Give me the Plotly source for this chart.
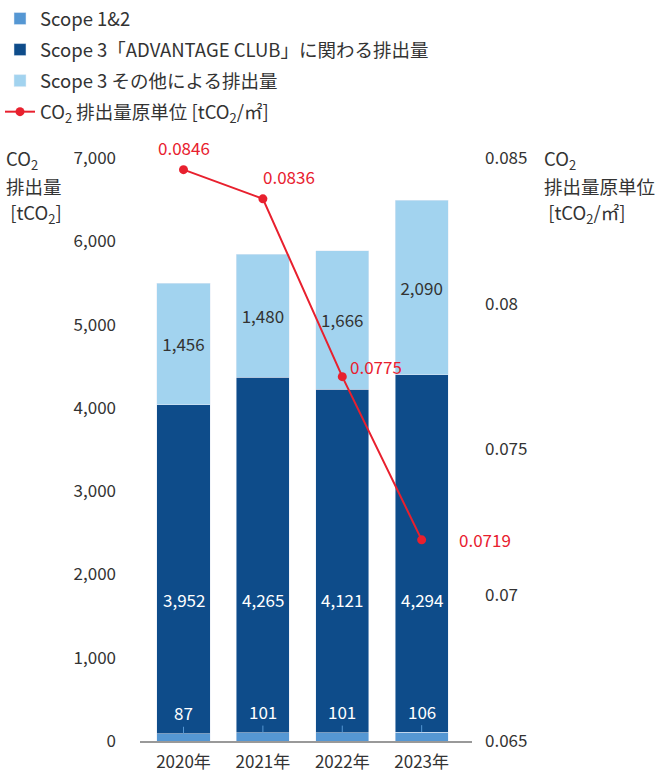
import plotly.graph_objects as go

years = ["2020年", "2021年", "2022年", "2023年"]
scope12 = [87, 101, 101, 106]
scope3_adv = [3952, 4265, 4121, 4294]
scope3_other = [1456, 1480, 1666, 2090]
intensity = [0.0846, 0.0836, 0.0775, 0.0719]

left_ticks = [0, 1000, 2000, 3000, 4000, 5000, 6000, 7000]
right_ticks = [0.065, 0.07, 0.075, 0.08, 0.085]
right_ticktext = ["0.065", "0.07", "0.075", "0.08", "0.085"]

C_S12 = "#5597D3"
C_ADV = "#0E4C8A"
C_OTH = "#A2D3EF"
C_RED = "#E8202E"
TXT = "#333333"
FONT = "Noto Sans CJK JP"

fig = go.Figure()
fig.add_trace(go.Bar(x=years, y=scope12, name="Scope 1&2", marker_color=C_S12,
                     width=0.67, legendgroup="a", hoverinfo="skip"))
fig.add_trace(go.Bar(x=years, y=scope3_adv, name="Scope 3「ADVANTAGE CLUB」に関わる排出量",
                     marker_color=C_ADV, width=0.67, legendgroup="b"))
fig.add_trace(go.Bar(x=years, y=scope3_other, name="Scope 3 その他による排出量",
                     marker_color=C_OTH, width=0.67, legendgroup="c",
                     text=[f"{v:,}" for v in scope3_other], textposition="inside",
                     insidetextanchor="middle",
                     textfont=dict(color=TXT, size=17, family=FONT)))
fig.add_trace(go.Scatter(x=years, y=intensity, yaxis="y2", mode="lines+markers",
                         name="CO<sub>2</sub> 排出量原単位 [tCO<sub>2</sub>/㎡]",
                         line=dict(color=C_RED, width=2), marker=dict(color=C_RED, size=9),
                         legendgroup="d"))

ann = []
# dark segment labels
for x, v in zip(years, scope3_adv):
    ann.append(dict(x=x, y=1700, xref="x", yref="y", text=f"{v:,}", showarrow=False,
                    font=dict(color="white", size=17, family=FONT)))
# scope 1&2 labels with leader lines
for x, v in zip(years, scope12):
    ann.append(dict(x=x, y=v, xref="x", yref="y", text=f"{v:,}", showarrow=True,
                    ax=0, ay=-21, arrowhead=0, arrowwidth=1, arrowcolor=C_S12,
                    font=dict(color="white", size=17, family=FONT)))
# line labels
offs = [(0, 22, "center"), (-2, 22, "left"), (6, 10, "left"), (35, 0, "left")]
for (x, v), (dx, dy, anc) in zip(zip(years, intensity), offs):
    ann.append(dict(x=x, y=v, xref="x", yref="y2", text=f"{v}", showarrow=False,
                    xanchor=anc, xshift=dx, yshift=dy,
                    font=dict(color=C_RED, size=17, family=FONT)))

W, H = 671, 773
ml, mr, mt, mb = 140, 199, 158, 32
pw, ph = W - ml - mr, H - mt - mb

# axis titles (pixel positions converted to paper coords)
titles = [
    (4, 160, "CO<sub>2</sub>"), (4, 186, "排出量"), (4, 213, " [tCO<sub>2</sub>]"),
    (542, 160, "CO<sub>2</sub>"), (542, 186, "排出量原単位"), (542, 213, " [tCO<sub>2</sub>/㎡]"),
]
for px, py, txt in titles:
    ann.append(dict(x=(px - ml) / pw, y=1 - (py - mt) / ph, xref="paper", yref="paper",
                    text=txt, showarrow=False, xanchor="left", yanchor="middle",
                    font=dict(color=TXT, size=18.5, family=FONT)))

fig.update_layout(
    width=W, height=H, barmode="stack",
    margin=dict(l=ml, r=mr, t=mt, b=mb, autoexpand=False),
    paper_bgcolor="white", plot_bgcolor="white",
    font=dict(family=FONT, color=TXT, size=16),
    showlegend=True,
    legend=dict(xref="container", yref="container", x=0.0, y=1.0, xanchor="left", yanchor="top",
                traceorder="grouped", tracegroupgap=4, font=dict(size=18.5, color=TXT, family=FONT),
                itemwidth=30, bgcolor="rgba(0,0,0,0)"),
    xaxis=dict(type="category", range=[-0.548, 3.634], showline=True, linecolor="#999999",
               linewidth=2, ticks="", tickfont=dict(size=17, color=TXT), showgrid=False,
               zeroline=False, ticklabelstandoff=5),
    yaxis=dict(range=[0, 7000], tickvals=left_ticks, tickformat=",", showgrid=False,
               zeroline=False, ticks="", tickfont=dict(size=17, color=TXT),
               ticklabelstandoff=23),
    yaxis2=dict(range=[0.065, 0.085], overlaying="y", side="right", tickvals=right_ticks,
                ticktext=right_ticktext, showgrid=False, zeroline=False, ticks="",
                tickfont=dict(size=17, color=TXT), ticklabelstandoff=12),
    annotations=ann,
)
fig.write_html("out.html")
